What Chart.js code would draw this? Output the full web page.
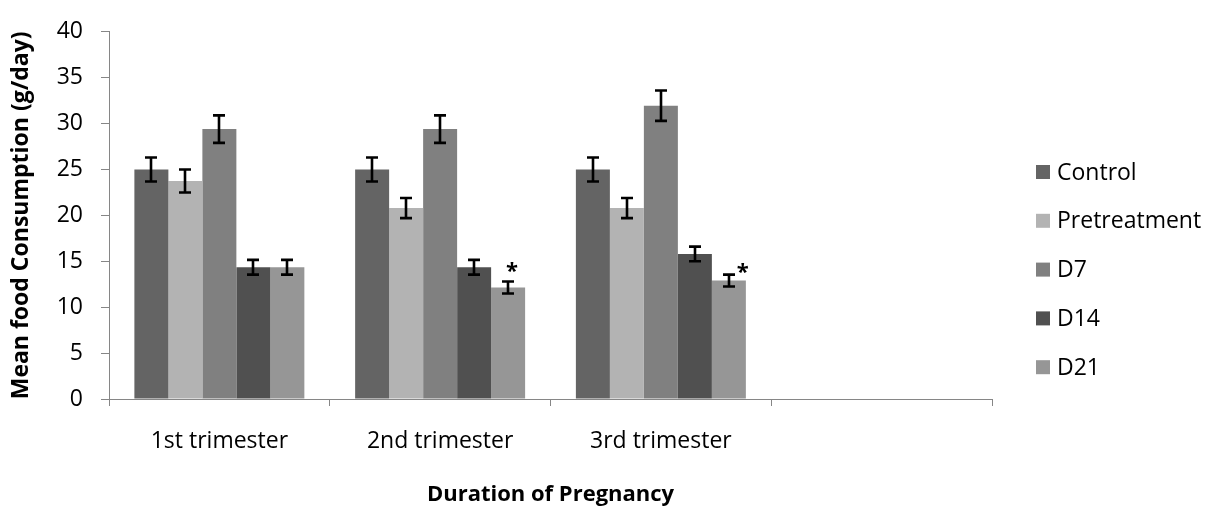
<!DOCTYPE html>
<html>
<head>
<meta charset="utf-8">
<script src="https://cdn.jsdelivr.net/npm/chart.js@4/dist/chart.umd.min.js"></script>
<style>
  html, body { margin: 0; padding: 0; background: #ffffff; }
  canvas { display: block; }
</style>
</head>
<body>
<canvas id="chart" width="1206" height="506"></canvas>
<script>
// Mean food consumption (g/day) by trimester, with standard errors
const categories = ['1st trimester', '2nd trimester', '3rd trimester', ''];
const seriesNames = ['Control', 'Pretreatment', 'D7', 'D14', 'D21'];

const control      = [25.0, 25.0, 25.0, null];
const pretreatment = [23.75, 20.8, 20.8, null];
const d7           = [29.4, 29.4, 31.95, null];
const d14          = [14.35, 14.35, 15.8, null];
const d21          = [14.35, 12.15, 12.9, null];

const controlErr      = [1.3, 1.3, 1.3, null];
const pretreatmentErr = [1.25, 1.1, 1.1, null];
const d7Err           = [1.5, 1.5, 1.65, null];
const d14Err          = [0.8, 0.8, 0.8, null];
const d21Err          = [0.8, 0.65, 0.65, null];

// significance markers on the D21 series
const d21Marks = ['', '*', '*', ''];

const yMin = 0, yMax = 40, yStep = 5;

const colors = ['#646464', '#b3b3b3', '#808080', '#505050', '#969696'];
const values = [control, pretreatment, d7, d14, d21];
const errors = [controlErr, pretreatmentErr, d7Err, d14Err, d21Err];

const FONT = '"Open Sans", "Liberation Sans", sans-serif';
const AXIS = '#868686';

const datasets = seriesNames.map((name, i) => ({
  label: name,
  data: values[i],
  errors: errors[i],
  backgroundColor: colors[i],
  borderWidth: 0,
  barPercentage: 1.0,
  categoryPercentage: 0.77
}));
datasets[4].marks = d21Marks;

// Error bars with caps, drawn over each bar
const errorBars = {
  id: 'errorBars',
  afterDatasetsDraw(chart) {
    const ctx = chart.ctx;
    const y = chart.scales.y;
    ctx.save();
    ctx.strokeStyle = '#000000';
    ctx.lineWidth = 2.6;
    ctx.lineCap = 'butt';
    chart.data.datasets.forEach((ds, di) => {
      const meta = chart.getDatasetMeta(di);
      meta.data.forEach((bar, k) => {
        const v = ds.data[k], e = ds.errors[k];
        if (v == null || e == null) return;
        const x = Math.round(bar.x);
        const yt = y.getPixelForValue(v + e);
        const yb = y.getPixelForValue(v - e);
        const half = 6;
        ctx.beginPath();
        ctx.moveTo(x, yt); ctx.lineTo(x, yb);
        ctx.moveTo(x - half, yt); ctx.lineTo(x + half, yt);
        ctx.moveTo(x - half, yb); ctx.lineTo(x + half, yb);
        ctx.stroke();
      });
    });
    ctx.restore();
  }
};

// Asterisks beside the error bars of significant groups
const significance = {
  id: 'significance',
  afterDatasetsDraw(chart, args, opts) {
    const ctx = chart.ctx;
    const y = chart.scales.y;
    ctx.save();
    ctx.fillStyle = '#000000';
    ctx.font = 'bold 22px ' + FONT;
    ctx.textAlign = 'center';
    ctx.textBaseline = 'alphabetic';
    chart.data.datasets.forEach((ds, di) => {
      if (!ds.marks) return;
      const meta = chart.getDatasetMeta(di);
      meta.data.forEach((bar, k) => {
        const m = ds.marks[k];
        if (!m) return;
        const off = opts.offsets[k] || { dx: 8, dy: 0 };
        const yt = y.getPixelForValue(ds.data[k] + ds.errors[k]);
        ctx.fillText(m, bar.x + off.dx, yt + off.dy);
      });
    });
    ctx.restore();
  }
};

// Legend column to the right of the plot
const sideLegend = {
  id: 'sideLegend',
  afterDraw(chart, args, opts) {
    const ctx = chart.ctx;
    ctx.save();
    ctx.font = opts.fontSize + 'px ' + FONT;
    ctx.textBaseline = 'middle';
    ctx.textAlign = 'left';
    chart.data.datasets.forEach((ds, i) => {
      const cy = opts.top + i * opts.spacing;
      ctx.fillStyle = ds.backgroundColor;
      ctx.fillRect(opts.left, cy - opts.box / 2, opts.box, opts.box);
      ctx.fillStyle = '#000000';
      ctx.fillText(ds.label, opts.left + opts.box + 7, cy + 1);
    });
    ctx.restore();
  }
};

new Chart(document.getElementById('chart'), {
  type: 'bar',
  data: { labels: categories, datasets },
  plugins: [errorBars, significance, sideLegend],
  options: {
    responsive: false,
    devicePixelRatio: 1,
    animation: false,
    layout: { padding: { top: 22, right: 214, bottom: 0, left: 0 } },
    plugins: {
      legend: { display: false },
      tooltip: { enabled: false },
      significance: { offsets: { 1: { dx: 4, dy: -3 }, 2: { dx: 14, dy: 4 } } },
      sideLegend: { left: 1036, top: 172, spacing: 48.8, box: 14, fontSize: 23 }
    },
    scales: {
      x: {
        afterFit(scale) { scale.height = 107; },
        grid: {
          offset: true,
          drawOnChartArea: false,
          drawTicks: true,
          tickLength: 7,
          color: AXIS,
          lineWidth: 1
        },
        border: { display: true, color: AXIS, width: 1 },
        ticks: {
          color: '#000000',
          font: { family: FONT, size: 23, lineHeight: 1.2 },
          padding: 22,
          maxRotation: 0
        },
        title: {
          display: true,
          text: 'Duration of Pregnancy',
          color: '#000000',
          font: { family: FONT, size: 22, weight: 'bold', lineHeight: 1.0 },
          padding: { top: 0, bottom: 0 }
        }
      },
      y: {
        min: yMin,
        max: yMax,
        afterFit(scale) { scale.width = 109; },
        ticks: {
          stepSize: yStep,
          color: '#000000',
          font: { family: FONT, size: 23, lineHeight: 1.2 },
          padding: 18
        },
        grid: {
          drawOnChartArea: false,
          drawTicks: true,
          tickLength: 8,
          color: AXIS,
          lineWidth: 1
        },
        border: { display: true, color: AXIS, width: 1 },
        title: {
          display: true,
          text: 'Mean food Consumption (g/day)',
          color: '#000000',
          font: { family: FONT, size: 23, weight: 'bold', lineHeight: 1.0 },
          padding: { top: 10, bottom: 0 }
        }
      }
    }
  }
});
</script>
</body>
</html>
